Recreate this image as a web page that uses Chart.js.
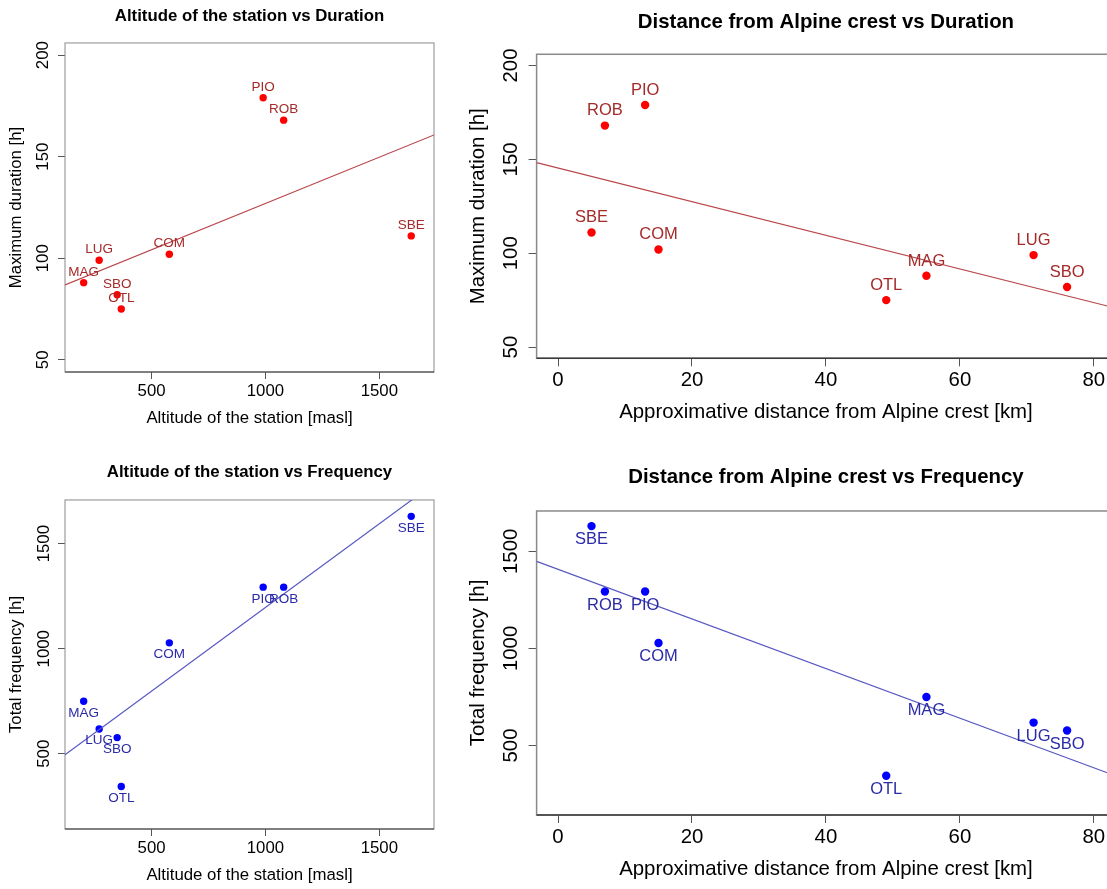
<!DOCTYPE html>
<html>
<head>
<meta charset="utf-8">
<script src="https://cdn.jsdelivr.net/npm/chart.js@4.4.1/dist/chart.umd.min.js"></script>
<style>
  html, body { margin: 0; padding: 0; background: #fff; }
  #page { position: relative; width: 1107px; height: 889px; overflow: hidden; background: #fff; }
  #page canvas { position: absolute; }
</style>
</head>
<body>
<div id="page">
  <canvas id="altDur" width="440" height="440" style="left:0;top:0"></canvas>
  <canvas id="distDur" width="690" height="440" style="left:440px;top:0"></canvas>
  <canvas id="altFreq" width="440" height="439" style="left:0;top:450px"></canvas>
  <canvas id="distFreq" width="690" height="439" style="left:440px;top:450px"></canvas>
</div>
<script>
  "use strict";

  // ---------- data ----------
  const stations  = ["PIO", "ROB", "SBE", "COM", "LUG", "MAG", "SBO", "OTL"];
  const altitude  = [990, 1080, 1640, 578, 270, 202, 349, 367];   // masl
  const distance  = [13, 7, 5, 15, 71, 55, 76, 49];               // km
  const duration  = [179, 168, 111, 102, 99, 88, 82, 75];         // h
  const frequency = [1293, 1293, 1630, 1028, 618, 750, 577, 344]; // h

  // fitted lines, end points read at the plot edges
  const altDurFit   = [{ x: 120, y: 86.9 }, { x: 1740, y: 160.7 }];
  const distDurFit  = [{ x: -3.2, y: 148.3 }, { x: 83.2, y: 70.8 }];
  const altFreqFit  = [{ x: 120, y: 495 }, { x: 1740, y: 1786 }];
  const distFreqFit = [{ x: -3.2, y: 1448.6 }, { x: 83.2, y: 344.4 }];

  // axis ranges and ticks
  const altRange  = [120, 1740];
  const distRange = [-3.2, 83.2];
  const durRange  = [44, 206];
  const freqRange = [142, 1708];
  const altTicks  = [500, 1000, 1500];
  const distTicks = [0, 20, 40, 60, 80];
  const durTicks  = [50, 100, 150, 200];
  const freqTicks = [500, 1000, 1500];

  // ---------- styling ----------
  const FAMILY = "'Liberation Sans', Arial, Helvetica, sans-serif";
  Chart.defaults.font.family = FAMILY;
  Chart.defaults.color = "#000";

  const RED = "#ff0000", RED_TXT = "#a52a2a", RED_LINE = "#b8474b";
  const BLUE = "#0000ff", BLUE_TXT = "#2b2ba8", BLUE_LINE = "#5858c2";

  // R-like box round the plot region
  const boxPlugin = {
    id: "rbox",
    beforeDatasetsDraw(chart, args, opts) {
      const { left, right, top, bottom } = chart.chartArea;
      const ctx = chart.ctx;
      ctx.save();
      ctx.lineWidth = opts.width || 1;
      ctx.strokeStyle = "#8a8a8a";
      ctx.strokeRect(left, top, right - left, bottom - top);
      ctx.strokeStyle = "#3a3a3a";
      ctx.beginPath();
      ctx.moveTo(left, bottom);
      ctx.lineTo(right, bottom);
      ctx.stroke();
      ctx.restore();
    },
  };

  // station names next to the points
  const labelPlugin = {
    id: "stationLabels",
    afterDatasetsDraw(chart, args, opts) {
      const meta = chart.getDatasetMeta(1);
      const ctx = chart.ctx;
      ctx.save();
      ctx.font = `${opts.size}px ${FAMILY}`;
      ctx.fillStyle = opts.color;
      ctx.textAlign = "center";
      ctx.textBaseline = "middle";
      meta.data.forEach((pt, i) => ctx.fillText(stations[i], pt.x, pt.y + opts.dy));
      ctx.restore();
    },
  };

  function panel(id, p) {
    const fs = p.fontSize;
    const font = { family: FAMILY, size: fs };
    return new Chart(document.getElementById(id), {
      type: "scatter",
      data: {
        datasets: [
          {
            type: "line",
            data: p.fit,
            borderColor: p.lineColor,
            borderWidth: 1.2,
            pointRadius: 0,
            fill: false,
            clip: 0,
          },
          {
            data: p.x.map((v, i) => ({ x: v, y: p.y[i] })),
            backgroundColor: p.pointColor,
            borderColor: p.pointColor,
            borderWidth: 0,
            pointRadius: p.r,
            pointHoverRadius: p.r,
          },
        ],
      },
      options: {
        responsive: false,
        animation: false,
        events: [],
        layout: { padding: { left: 0, top: 0, bottom: 0, right: p.padRight } },
        plugins: {
          legend: { display: false },
          tooltip: { enabled: false },
          title: {
            display: true,
            text: p.title,
            fullSize: false,
            color: "#000",
            font: { family: FAMILY, size: fs, weight: "bold" },
            padding: { top: p.titlePad[0], bottom: p.titlePad[1] },
          },
          rbox: { width: p.boxWidth },
          stationLabels: { size: p.labelSize, color: p.labelColor, dy: p.labelDy },
        },
        scales: {
          x: {
            type: "linear",
            min: p.xRange[0],
            max: p.xRange[1],
            afterBuildTicks: (s) => { s.ticks = p.xTicks.map((v) => ({ value: v })); },
            afterFit: (s) => { s.height = p.xAxisH; },
            border: { display: false },
            grid: { drawOnChartArea: false, drawTicks: true, tickLength: p.tl, color: "#555" },
            ticks: {
              font, color: "#000", padding: p.xTickPad,
              autoSkip: false, minRotation: 0, maxRotation: 0,
              callback: (v) => String(v),
            },
            title: { display: true, text: p.xTitle, font, color: "#000", padding: { top: 0, bottom: p.xTitlePad } },
          },
          y: {
            type: "linear",
            min: p.yRange[0],
            max: p.yRange[1],
            afterBuildTicks: (s) => { s.ticks = p.yTicks.map((v) => ({ value: v })); },
            afterFit: (s) => { s.width = p.yAxisW; },
            border: { display: false },
            grid: { drawOnChartArea: false, drawTicks: true, tickLength: p.tl, color: "#555" },
            ticks: {
              font, color: "#000", padding: p.yTickPad,
              autoSkip: false, minRotation: 90, maxRotation: 90, crossAlign: "center",
              callback: (v) => String(v),
            },
            title: { display: true, text: p.yTitle, font, color: "#000", padding: { top: p.yTitlePad, bottom: 0 } },
          },
        },
      },
      plugins: [boxPlugin, labelPlugin],
    });
  }

  const leftStyle = {
    fontSize: 16.8, labelSize: 13.5, r: 3.7, tl: 7, boxWidth: 1,
    yAxisW: 65, yTitlePad: 6, padRight: 6,
  };
  const rightStyle = {
    fontSize: 20.4, labelSize: 16.5, r: 4.2, tl: 8, boxWidth: 1.5,
    yAxisW: 96.6, yTitlePad: 26, padRight: 14.7,
  };

  panel("altDur", Object.assign({}, leftStyle, {
    title: "Altitude of the station vs Duration",
    xTitle: "Altitude of the station [masl]", yTitle: "Maximum duration [h]",
    x: altitude, y: duration, fit: altDurFit,
    xRange: altRange, yRange: durRange, xTicks: altTicks, yTicks: durTicks,
    pointColor: RED, labelColor: RED_TXT, lineColor: RED_LINE, labelDy: -10.7,
    titlePad: [5.8, 17.0], xAxisH: 68, xTickPad: 2.4, xTitlePad: 11.4, yTickPad: 0.5,
  }));

  panel("distDur", Object.assign({}, rightStyle, {
    title: "Distance from Alpine crest vs Duration",
    xTitle: "Approximative distance from Alpine crest [km]", yTitle: "Maximum duration [h]",
    x: distance, y: duration, fit: distDurFit,
    xRange: distRange, yRange: durRange, xTicks: distTicks, yTicks: durTicks,
    pointColor: RED, labelColor: RED_TXT, lineColor: RED_LINE, labelDy: -14.7,
    titlePad: [10.0, 19.8], xAxisH: 81.7, xTickPad: 1.7, xTitlePad: 15.6, yTickPad: 0,
  }));

  panel("altFreq", Object.assign({}, leftStyle, {
    title: "Altitude of the station vs Frequency",
    xTitle: "Altitude of the station [masl]", yTitle: "Total frequency [h]",
    x: altitude, y: frequency, fit: altFreqFit,
    xRange: altRange, yRange: freqRange, xTicks: altTicks, yTicks: freqTicks,
    pointColor: BLUE, labelColor: BLUE_TXT, lineColor: BLUE_LINE, labelDy: 11.7,
    titlePad: [12.4, 17.4], xAxisH: 60, xTickPad: 2.1, xTitlePad: 4.0, yTickPad: -4.9,
  }));

  panel("distFreq", Object.assign({}, rightStyle, {
    title: "Distance from Alpine crest vs Frequency",
    xTitle: "Approximative distance from Alpine crest [km]", yTitle: "Total frequency [h]",
    x: distance, y: frequency, fit: distFreqFit,
    xRange: distRange, yRange: freqRange, xTicks: distTicks, yTicks: freqTicks,
    pointColor: BLUE, labelColor: BLUE_TXT, lineColor: BLUE_LINE, labelDy: 13.7,
    titlePad: [15.0, 21.5], xAxisH: 74, xTickPad: 1.7, xTitlePad: 7.2, yTickPad: -5.7,
  }));
</script>
</body>
</html>
